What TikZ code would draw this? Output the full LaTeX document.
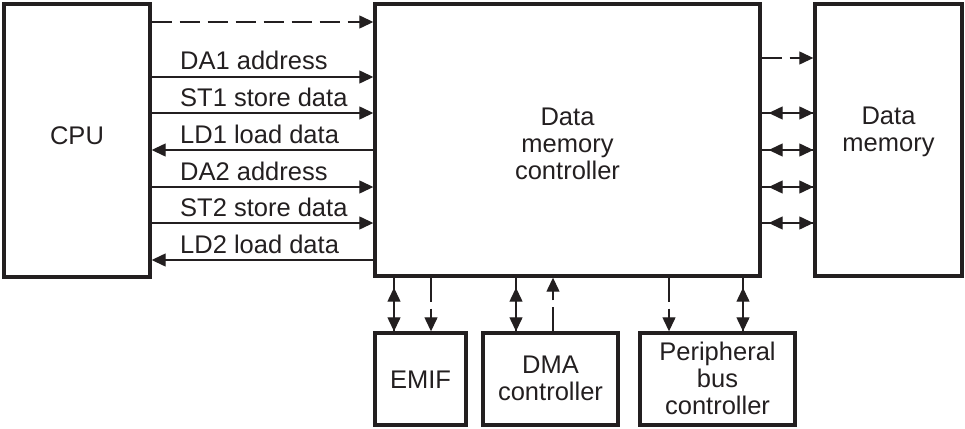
\documentclass[tikz,border=0pt]{standalone}
\usepackage{fontspec}
\setmainfont{Liberation Sans}
\usetikzlibrary{arrows.meta}
\definecolor{ink}{RGB}{35,31,32}
\begin{document}
\begin{tikzpicture}[x=1pt,y=-1pt,
  box/.style={draw=ink,line width=3.4pt,inner sep=0pt},
  txt/.style={text=ink,align=center,inner sep=0pt,font=\fontsize{25.5}{27}\selectfont},
  conn/.style={draw=ink,line width=1.3pt},
  dashpat/.style={dash pattern=on 20pt off 8pt},
  tip/.tip={Triangle[length=14pt,width=13pt]}]
\useasboundingbox (0,0) rectangle (965,428);
% boxes
\node[box,minimum width=146pt,minimum height=273pt] (cpu) at (77,140.5) {};
\node[box,minimum width=385pt,minimum height=272pt] (dmc) at (567.5,140) {};
\node[box,minimum width=147pt,minimum height=272pt] (dm) at (888.5,140) {};
\node[box,minimum width=91pt,minimum height=92pt] (emif) at (420.5,379) {};
\node[box,minimum width=135pt,minimum height=92pt] (dma) at (550.5,379) {};
\node[box,minimum width=155pt,minimum height=92pt] (pbc) at (717.5,379) {};
% box texts
\node[txt] (cputxt) at (77,136) {CPU};
\node[txt] (dmctxt) at (567.5,143.5) {Data\\memory\\controller};
\node[txt] (dmtxt) at (888.5,131.5) {Data\\memory};
\node[txt] (emiftxt) at (420.5,380) {EMIF};
\node[txt] (dmatxt) at (550.5,378) {DMA\\controller};
\node[txt] (pbctxt) at (717.5,378.5) {Peripheral\\bus\\controller};
% row coordinates
\coordinate (r0) at (0,22);
\coordinate (r1) at (0,77);
\coordinate (r2) at (0,113);
\coordinate (r3) at (0,150);
\coordinate (r4) at (0,187);
\coordinate (r5) at (0,223);
\coordinate (r6) at (0,260);
\coordinate (q0) at (0,58);
% CPU <-> controller
\draw[conn,dashpat,-tip] (cpu.east|-r0) -- (dmc.west|-r0);
\draw[conn,-tip] (cpu.east|-r1) -- (dmc.west|-r1);
\draw[conn,-tip] (cpu.east|-r2) -- (dmc.west|-r2);
\draw[conn,-tip] (dmc.west|-r3) -- (cpu.east|-r3);
\draw[conn,-tip] (cpu.east|-r4) -- (dmc.west|-r4);
\draw[conn,-tip] (cpu.east|-r5) -- (dmc.west|-r5);
\draw[conn,-tip] (dmc.west|-r6) -- (cpu.east|-r6);
\node[txt,anchor=base west] (l1) at (180,70) {DA1 address};
\node[txt,anchor=base west] (l2) at (180,106) {ST1 store data};
\node[txt,anchor=base west] (l3) at (180,143) {LD1 load data};
\node[txt,anchor=base west] (l4) at (180,180) {DA2 address};
\node[txt,anchor=base west] (l5) at (180,216) {ST2 store data};
\node[txt,anchor=base west] (l6) at (180,253) {LD2 load data};
% controller <-> data memory
\draw[conn,dashpat,-tip] (dmc.east|-q0) -- (dm.west|-q0);
\foreach \r in {r2,r3,r4,r5}{
  \draw[conn] (dmc.east|-\r) -- (dm.west|-\r);
  \draw[conn,tip-tip,shorten <=7pt] (dmc.east|-\r) -- (dm.west|-\r);
}
% bottom columns
\coordinate (c1) at (394,0);
\coordinate (c2) at (431,0);
\coordinate (c3) at (516,0);
\coordinate (c4) at (553,0);
\coordinate (c5) at (669,0);
\coordinate (c6) at (743,0);
\draw[conn] (dmc.south-|c1) -- (emif.north-|c1);
\draw[conn,tip-tip,shorten <=10pt] (dmc.south-|c1) -- (emif.north-|c1);
\draw[conn,dash pattern=on 24pt off 7pt,-tip] (dmc.south-|c2) -- (emif.north-|c2);
\draw[conn] (dmc.south-|c3) -- (dma.north-|c3);
\draw[conn,tip-tip,shorten <=10pt] (dmc.south-|c3) -- (dma.north-|c3);
\draw[conn,dash pattern=on 24pt off 7pt,-tip] (dma.north-|c4) -- (dmc.south-|c4);
\draw[conn,dash pattern=on 24pt off 7pt,-tip] (dmc.south-|c5) -- (pbc.north-|c5);
\draw[conn] (dmc.south-|c6) -- (pbc.north-|c6);
\draw[conn,tip-tip,shorten <=10pt] (dmc.south-|c6) -- (pbc.north-|c6);
\end{tikzpicture}
\end{document}
